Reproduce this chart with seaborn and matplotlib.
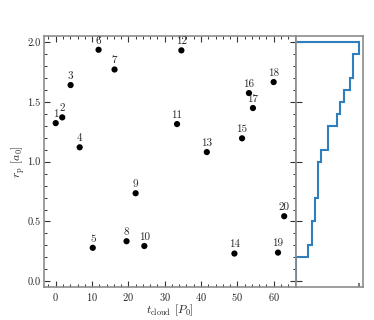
import numpy as np
import pandas as pd
import seaborn as sns
import matplotlib.ticker as mticker
from matplotlib import pyplot as plt

sns.set_theme(style="ticks")
plt.rcParams["font.family"] = ["serif"]
plt.rcParams["font.serif"] = ["cmr10", "DejaVu Serif"]
plt.rcParams["mathtext.fontset"] = "cm"
plt.rcParams["axes.formatter.use_mathtext"] = True

# cloud data
ids = list(range(1, 21))
t_cloud = [0.0, 1.8, 4.1, 6.6, 10.2, 11.8, 16.2, 19.5, 22.0, 24.4,
           33.4, 34.6, 41.6, 49.2, 51.3, 53.2, 54.3, 60.0, 61.2, 62.9]
r_p = [1.322, 1.37, 1.64, 1.12, 0.28, 1.935, 1.77, 0.335, 0.736, 0.295,
       1.314, 1.93, 1.08, 0.232, 1.195, 1.573, 1.448, 1.665, 0.24, 0.544]
bins = np.arange(0, 2.05, 0.1)

df = pd.DataFrame({"id": ids, "t": t_cloud, "r": r_p})

fig = plt.figure(figsize=(3.74, 3.2), dpi=100)
ax = fig.add_axes([0.1184, 0.1022, 0.672, 0.7853])
ax2 = fig.add_axes([0.7906, 0.1022, 0.179, 0.7853], sharey=ax)

sns.scatterplot(data=df, x="t", y="r", ax=ax, color="black", s=20,
                edgecolor="none", legend=False)
for _, row in df.iterrows():
    ax.annotate(str(int(row["id"])), (row["t"], row["r"]), xytext=(0, 3),
                textcoords="offset points", ha="center", va="bottom",
                fontsize=8, color="0.15")

ax.set_ylim(-0.05, 2.05)
ax.set_xlabel(r"$t_{\rm cloud}$ $[P_0]$", fontsize=8.5, color="0.15", labelpad=0)
ax.set_ylabel(r"$r_{\rm p}$ $[a_0]$", fontsize=8.5, color="0.15", labelpad=0.5)
ax.xaxis.set_major_locator(mticker.MultipleLocator(10))
ax.xaxis.set_minor_locator(mticker.MultipleLocator(2))
ax.yaxis.set_major_locator(mticker.MultipleLocator(0.5))
ax.yaxis.set_minor_locator(mticker.MultipleLocator(0.1))
ax.yaxis.set_major_formatter(mticker.FormatStrFormatter("%.1f"))
ax.tick_params(which="both", direction="in", top=True, right=True,
               labelsize=7.5, labelcolor="0.15", color="0.2", pad=2.5)
ax.tick_params(which="major", length=4, width=0.8)
ax.tick_params(which="minor", length=2, width=0.7)

# cumulative histogram of r_p
ax2.hist(r_p, bins=bins, cumulative=True, histtype="step",
         orientation="horizontal", color="#2f7fbf", linewidth=1.5)
ax2.set_xlim(0, 21)
ax2.set_xticks([20])
ax2.tick_params(axis="x", direction="in", labelbottom=False, length=3,
                color="0.4")
ax2.tick_params(axis="y", which="major", direction="in", left=True,
                right=False, labelleft=False, length=4, width=0.8,
                color="0.2")
ax2.tick_params(axis="y", which="minor", left=False, right=False)
ax2.set_xlabel("")
ax2.set_ylabel("")

for a in (ax, ax2):
    for sp in a.spines.values():
        sp.set_color("0.55")
        sp.set_linewidth(1.2)

plt.savefig("out.png", dpi=100)
plt.close()
